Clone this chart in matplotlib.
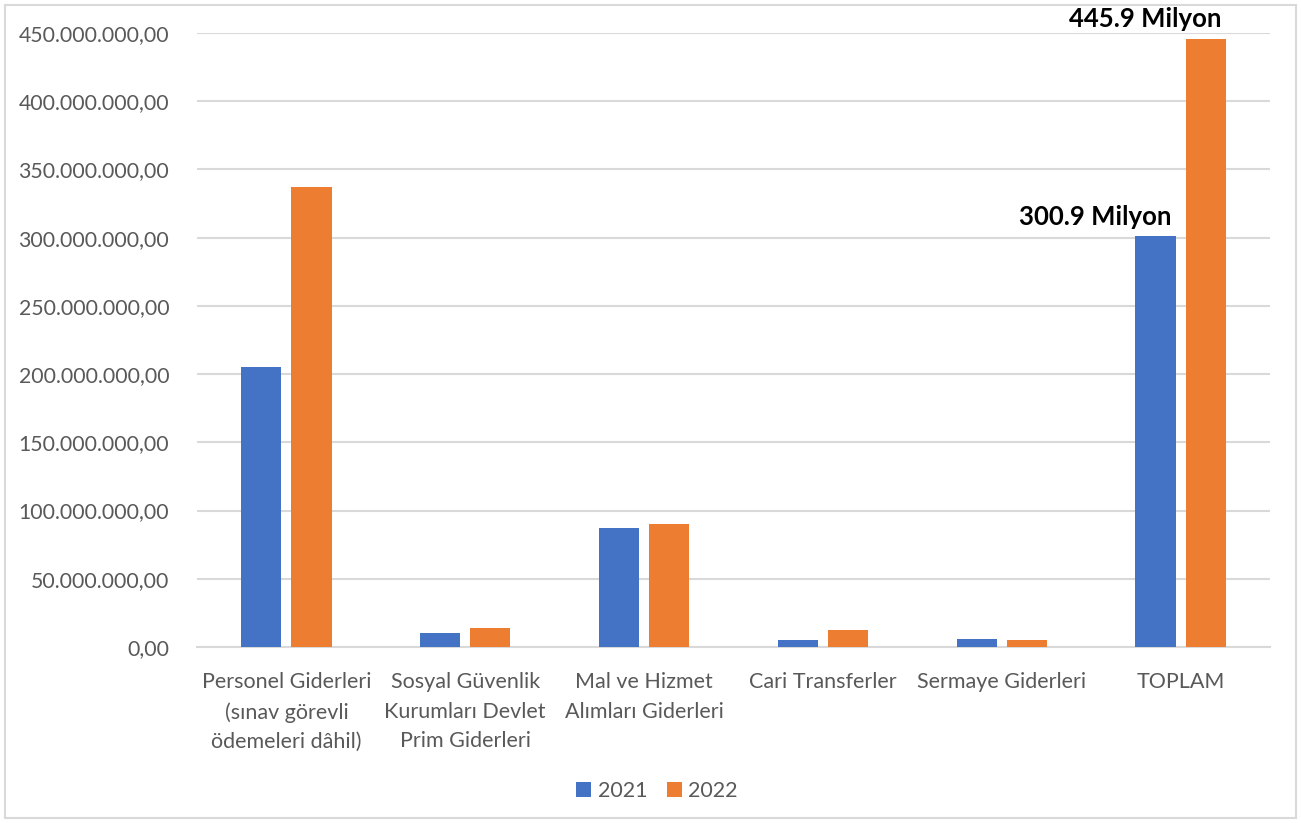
import matplotlib
matplotlib.use("Agg")
import matplotlib.pyplot as plt
from matplotlib.patches import Rectangle
import numpy as np

categories = [
    "Personel Giderleri\n(sınav görevli\nödemeleri dâhil)",
    "Sosyal Güvenlik\nKurumları Devlet\nPrim Giderleri",
    "Mal ve Hizmet\nAlımları Giderleri",
    "Cari Transferler",
    "Sermaye Giderleri",
    "TOPLAM",
]
series_names = ["2021", "2022"]
values_2021 = [205.2e6, 10.0e6, 87.4e6, 5.3e6, 5.9e6, 300.9e6]
values_2022 = [337.1e6, 13.9e6, 90.4e6, 12.5e6, 4.9e6, 445.9e6]
total_labels = {5: ("300.9 Milyon", "445.9 Milyon")}
yticks = np.arange(0, 450e6 + 1, 50e6)

plt.rcParams['font.family'] = ['Lato', 'DejaVu Sans']

W, H = 1301, 823
fig = plt.figure(figsize=(W / 100, H / 100), dpi=100)
fig.patches.append(Rectangle((5 / W, 1 - 818 / H), 1291 / W, 813 / H,
                             transform=fig.transFigure, fill=False,
                             edgecolor='#d9d9d9', linewidth=1.5))

ax = fig.add_axes([197 / W, 1 - 647 / H, (1270 - 197) / W, (647 - 33) / H])
x = np.arange(len(categories))
bw = 0.225
gap = 0.055
c1, c2 = '#4472c4', '#ed7d31'
b1 = ax.bar(x - (bw + gap) / 2, values_2021, bw, color=c1, label=series_names[0], zorder=3)
b2 = ax.bar(x + (bw + gap) / 2, values_2022, bw, color=c2, label=series_names[1], zorder=3)

ax.set_xlim(-0.5, len(categories) - 0.5)
ax.set_ylim(0, 450e6)
ax.set_yticks(yticks)
ax.set_yticklabels([f"{int(v):,}".replace(",", ".") + ",00" for v in yticks],
                   fontsize=15.3, color='#595959')
ax.set_xticks(x)
ax.set_xticklabels(categories, fontsize=15.5, color='#595959', linespacing=1.6, va='top')
ax.tick_params(axis='both', length=0)
ax.tick_params(axis='y', pad=20)
ax.tick_params(axis='x', pad=18)
ax.grid(axis='y', color='#d9d9d9', linewidth=1.5, zorder=0)
for s in ['top', 'right', 'left']:
    ax.spines[s].set_visible(False)
ax.spines['bottom'].set_color('#d9d9d9')
ax.spines['bottom'].set_linewidth(1.5)

for i, (l1, l2) in total_labels.items():
    for bars, vals, lab in ((b1, values_2021, l1), (b2, values_2022, l2)):
        ax.annotate(lab, (bars[i].get_x() + bw, vals[i]), xytext=(-3, 8),
                    textcoords='offset points', ha='right', va='baseline',
                    fontsize=18.5, fontweight='bold', color='black', zorder=4)

fig.legend(handles=[b1, b2], labels=series_names, loc='center',
           bbox_to_anchor=(657 / W, 1 - 791 / H), ncol=2, frameon=False,
           fontsize=15.5, labelcolor='#595959', handlelength=0.7, handleheight=0.7,
           columnspacing=0.9, handletextpad=0.3)

fig.savefig("out.png", dpi=100)
